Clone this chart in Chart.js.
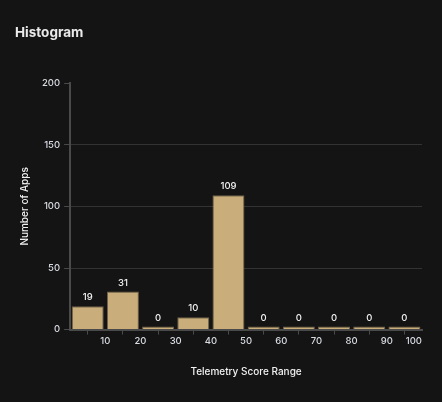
<!DOCTYPE html>
<html>
<head>
<meta charset="utf-8">
<script src="https://cdn.jsdelivr.net/npm/chart.js@4.4.1/dist/chart.umd.min.js"></script>
<style>
  html, body { margin: 0; padding: 0; background: #141414; }
  #wrap { width: 442px; height: 402px; }
</style>
</head>
<body>
<div id="wrap"><canvas id="mycanvas"></canvas></div>
<script>
// bin centres (score ranges 0-10, 10-20, ... 90-100)
var binCenters = [5, 15, 25, 35, 45, 55, 65, 75, 85, 95];
var appCounts = [19, 31, 0, 10, 109, 0, 0, 0, 0, 0];
var xTicks = [10, 20, 30, 40, 50, 60, 70, 80, 90, 100];
var yTicks = [0, 50, 100, 150, 200];

var points = [];
for (var i = 0; i < binCenters.length; i++) {
  points.push({ x: binCenters[i], y: appCounts[i] });
}

// draws the count above each bar
var barLabels = {
  id: 'barLabels',
  afterDatasetsDraw: function(chart) {
    var ctx = chart.ctx;
    var meta = chart.getDatasetMeta(0);
    ctx.save();
    ctx.font = '500 9.5px Inter, "Noto Sans", sans-serif';
    ctx.fillStyle = '#f2f2f2';
    ctx.textAlign = 'center';
    ctx.textBaseline = 'bottom';
    meta.data.forEach(function(bar, idx) {
      ctx.fillText(appCounts[idx], bar.x, bar.y - 4);
    });
    ctx.restore();
  }
};

var ctx = document.getElementById('mycanvas');
var chart = new Chart(ctx, {
  type: 'bar',
  data: {
    datasets: [{
      label: 'Number of Apps',
      data: points,
      backgroundColor: '#c9ad7a',
      borderColor: '#6e6048',
      borderWidth: 1,
      minBarLength: 3,
      barPercentage: 0.91,
      categoryPercentage: 1
    }]
  },
  options: {
    responsive: true,
    maintainAspectRatio: false,
    animation: false,
    layout: { padding: { left: 15, right: 20, top: 8, bottom: 20 } },
    plugins: {
      legend: { display: false },
      tooltip: { enabled: false },
      title: {
        display: true,
        text: 'Histogram',
        align: 'start',
        color: '#eaeaea',
        font: { family: 'Inter, "Noto Sans", sans-serif', size: 13.5, weight: 'bold' },
        padding: { top: 17, bottom: 42 }
      }
    },
    scales: {
      x: {
        type: 'linear',
        offset: false,
        min: 0,
        max: 100,
        afterBuildTicks: function(axis) {
          axis.ticks = [{ value: 0 }].concat(xTicks.map(function(v) { return { value: v }; }));
        },
        ticks: {
          color: '#d8dbe2',
          align: 'inner',
          padding: 1,
          font: { family: 'Inter, "Noto Sans", sans-serif', size: 9.5, weight: '500' },
          maxRotation: 0,
          callback: function(v) { return v === 0 ? '' : v; }
        },
        grid: { drawOnChartArea: false, drawTicks: true, tickLength: 5, color: '#4a4a4a' },
        border: { color: '#4a4a4a', width: 2 },
        title: {
          display: true,
          text: 'Telemetry Score Range',
          color: '#f2f2f2',
          font: { family: 'Inter, "Noto Sans", sans-serif', size: 10, weight: '500' },
          padding: { top: 18 }
        }
      },
      y: {
        min: 0,
        max: 200,
        afterBuildTicks: function(axis) {
          axis.ticks = yTicks.map(function(v) { return { value: v }; });
        },
        ticks: {
          color: '#d8dbe2',
          padding: 4,
          font: { family: 'Inter, "Noto Sans", sans-serif', size: 9.5, weight: '500' }
        },
        grid: {
          tickLength: 6,
          color: function(c) { return c.tick && c.tick.value === 200 ? 'rgba(0,0,0,0)' : '#333333'; },
          tickColor: '#4a4a4a'
        },
        border: { color: '#4a4a4a', width: 2 },
        title: {
          display: true,
          text: 'Number of Apps',
          color: '#f2f2f2',
          font: { family: 'Inter, "Noto Sans", sans-serif', size: 10, weight: '500' },
          padding: { bottom: 7 }
        }
      }
    }
  },
  plugins: [barLabels]
});
</script>
</body>
</html>
